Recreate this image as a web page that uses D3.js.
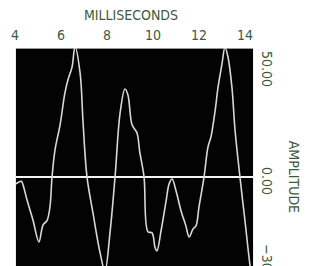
<!DOCTYPE html>
<html lang="en">
  <head>
    <meta charset="UTF-8">
    <title>Amplitude vs milliseconds</title>
    <script src="https://d3js.org/d3.v7.min.js"></script>
    <style>
      html, body { margin: 0; padding: 0; background: #fff; }
      svg { display: block; }
      text { font-family: "Liberation Sans Narrow", "DejaVu Sans Condensed", "Liberation Sans", sans-serif; fill: #3b5b3b; }
    </style>
  </head>
  <body>
    <script>
      // waveform: time in ms, amplitude
      var timeMs = [4.04, 4.22, 4.28, 4.52, 4.78, 5.04, 5.22, 5.39, 5.52, 5.61, 5.74, 5.96, 6.17, 6.30, 6.48, 6.61,
        6.83, 6.96, 7.13, 7.39, 7.70, 7.91, 8.13, 8.35, 8.57, 8.78, 8.91, 9.09, 9.30, 9.43, 9.61, 9.78, 9.96,
        10.09, 10.17, 10.35, 10.57, 10.70, 10.83, 11.00, 11.22, 11.43, 11.57, 11.74, 11.87, 12.00, 12.22, 12.39,
        12.52, 12.70, 12.83, 13.00, 13.13, 13.26, 13.43, 13.57, 13.78, 14.00, 14.22, 14.35];
      var amplitude = [-2.7, -1.8, -1.7, -8.9, -16.7, -25.2, -18.6, -17.0, -11.6, 0, 10.5, 20.2, 32.6, 37.6, 42.6, 50.5,
        40.3, 20.9, 0, -14.0, -29.5, -36.5, -21.7, 0, 24.8, 34.1, 31.8, 20.2, 17.1, 9.3, 0, -21.3, -21.7,
        -27.5, -28.7, -20.9, -9.3, -2.7, -0.8, -5.4, -13.2, -19.0, -23.3, -20.2, -19.0, -11.6, 0, 11.6,
        15.5, 25.6, 34.9, 43.8, 50.3, 46.5, 34.9, 17.8, 0, -17.1, -34.5, -41.9];
      var xTicks = [4, 6, 8, 10, 12, 14];
      var yTicks = [50, 0, -30];
      var yTickLabels = ["50.00", "0.00", "\u221230.00"];

      var width = 312;
      var height = 266;

      var svg = d3.select("body").append("svg")
        .attr("width", width)
        .attr("height", height);

      var x = d3.scaleLinear().domain([4, 14]).range([15, 245]);
      var y = d3.scaleLinear().domain([-40, 50]).range([280, 48]);

      var plotLeft = x(4.04), plotRight = x(14.35);

      svg.append("clipPath").attr("id", "plotClip")
        .append("rect")
        .attr("x", plotLeft)
        .attr("y", y(50))
        .attr("width", plotRight - plotLeft)
        .attr("height", y(-40) - y(50));

      svg.append("rect")
        .attr("x", plotLeft)
        .attr("y", y(50))
        .attr("width", plotRight - plotLeft)
        .attr("height", y(-40) - y(50))
        .attr("fill", "#030303");

      // faint top border
      svg.append("line")
        .attr("x1", plotLeft).attr("x2", plotRight)
        .attr("y1", y(50) + 0.5).attr("y2", y(50) + 0.5)
        .attr("stroke", "#9a9a9a")
        .attr("stroke-width", 1);

      // zero line
      svg.append("line")
        .attr("x1", plotLeft).attr("x2", plotRight)
        .attr("y1", y(0)).attr("y2", y(0))
        .attr("stroke", "#f4f4f4")
        .attr("stroke-width", 2);

      var wave = timeMs.map((t, i) => [t, amplitude[i]]);

      var line = d3.line()
        .x(d => x(d[0]))
        .y(d => y(d[1]))
        .curve(d3.curveCatmullRom.alpha(0.5));

      svg.append("path")
        .datum(wave)
        .attr("clip-path", "url(#plotClip)")
        .attr("fill", "none")
        .attr("stroke", "#d8d8d8")
        .attr("stroke-width", 1.6)
        .attr("d", line);

      // x tick labels on top
      svg.append("g")
        .selectAll("text")
        .data(xTicks)
        .enter().append("text")
        .attr("x", d => x(d))
        .attr("y", 40)
        .attr("text-anchor", "middle")
        .style("font-size", "14px")
        .text(d => d);

      svg.append("text")
        .attr("x", 131)
        .attr("y", 20)
        .attr("text-anchor", "middle")
        .style("font-size", "14px")
        .text("MILLISECONDS");

      // y labels on the right, turned to read downwards
      svg.append("g")
        .selectAll("text")
        .data(yTicks)
        .enter().append("text")
        .attr("transform", d => `translate(262,${Math.max(y(d) - 10, y(50) + 3)}) rotate(90)`)
        .attr("text-anchor", "start")
        .style("font-size", "14px")
        .text((d, i) => yTickLabels[i]);

      svg.append("text")
        .attr("transform", `translate(289,${y(0)}) rotate(90)`)
        .attr("text-anchor", "middle")
        .style("font-size", "14px")
        .text("AMPLITUDE");
    </script>
  </body>
</html>
